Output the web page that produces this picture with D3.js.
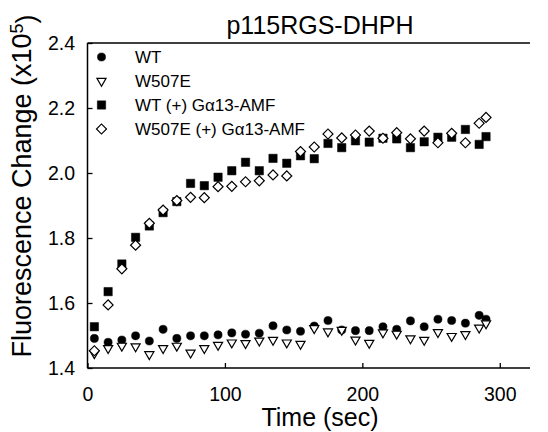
<!DOCTYPE html>
<html><head><meta charset="utf-8">
<script src="https://cdn.jsdelivr.net/npm/d3@7"></script>
<style>html,body{margin:0;padding:0;background:#fff;} svg{display:block;font-family:"Liberation Sans",Arial,sans-serif;}</style>
</head><body>
<div id="chart"></div>
<script>
const times = [5,15,25,35,45,55,65,75,85,95,105,115,125,135,145,155,165,175,185,195,205,215,225,235,245,255,265,275,285,290];
const wt = [1.491,1.479,1.486,1.499,1.483,1.519,1.491,1.499,1.499,1.502,1.508,1.504,1.507,1.530,1.517,1.513,1.529,1.546,1.517,1.515,1.515,1.527,1.519,1.545,1.527,1.550,1.546,1.538,1.562,1.550];
const w507e = [1.445,1.461,1.468,1.466,1.442,1.461,1.468,1.447,1.461,1.471,1.478,1.476,1.484,1.486,1.478,1.474,1.522,1.512,1.517,1.487,1.477,1.509,1.505,1.491,1.486,1.510,1.498,1.504,1.524,1.537];
const wtG = [1.527,1.635,1.720,1.802,1.837,1.878,1.912,1.968,1.961,1.987,2.007,2.033,2.007,2.045,2.030,2.053,2.044,2.091,2.078,2.099,2.095,2.107,2.105,2.078,2.096,2.110,2.110,2.134,2.088,2.112];
const w507eG = [1.453,1.594,1.705,1.778,1.845,1.886,1.915,1.925,1.924,1.958,1.959,1.973,1.976,1.994,1.991,2.066,2.080,2.120,2.108,2.117,2.129,2.107,2.124,2.105,2.129,2.093,2.122,2.093,2.153,2.171];
const seriesNames = ["WT","W507E","WT (+) G\u03B113-AMF","W507E (+) G\u03B113-AMF"];
const xTicks = [0,100,200,300];
const yTicks = [1.4,1.6,1.8,2.0,2.2,2.4];
const titleText = "p115RGS-DHPH";
const xLabel = "Time (sec)";

const W = 548, H = 432;
const svg = d3.select("#chart").append("svg").attr("width", W).attr("height", H);
const x = d3.scaleLinear().domain([0, 322]).range([87.5, 530]);
const y = d3.scaleLinear().domain([1.4, 2.4]).range([368, 43]);

// axes
const xAxis = svg.append("g").attr("transform", `translate(0,${y(1.4)})`)
  .call(d3.axisBottom(x).tickValues(xTicks).tickSizeInner(-5).tickSizeOuter(0).tickPadding(19).tickFormat(d3.format("d")));
const yAxis = svg.append("g").attr("transform", `translate(${x(0)},0)`)
  .call(d3.axisLeft(y).tickValues(yTicks).tickSizeInner(-5).tickSizeOuter(0).tickPadding(12.5).tickFormat(d3.format(".1f")));
[xAxis, yAxis].forEach(g => {
  g.select(".domain").remove();
  g.selectAll(".tick line").attr("stroke", "#000").attr("stroke-width", 1.3);
  g.selectAll(".tick text").attr("fill", "#000").style("font-size", "19.5px").style("font-family", '"Liberation Sans",Arial,sans-serif');
});
// frame lines: left, bottom, top
svg.append("line").attr("x1", x(0)).attr("x2", x(0)).attr("y1", y(2.4)).attr("y2", y(1.4)).attr("stroke", "#000").attr("stroke-width", 1.5);
svg.append("line").attr("x1", x(0)).attr("x2", x(322)).attr("y1", y(1.4)).attr("y2", y(1.4)).attr("stroke", "#000").attr("stroke-width", 1.5);
svg.append("line").attr("x1", x(0)).attr("x2", x(322)).attr("y1", y(2.4)).attr("y2", y(2.4)).attr("stroke", "#000").attr("stroke-width", 1.5);

// title & labels
svg.append("text").attr("x", 320).attr("y", 34).attr("text-anchor", "middle").style("font-size", "25px").text(titleText);
svg.append("text").attr("x", 320).attr("y", 426).attr("text-anchor", "middle").style("font-size", "25px").text(xLabel);
const yl = svg.append("text").attr("transform", "translate(31,186) rotate(-90)").attr("text-anchor", "middle").style("font-size", "27px");
yl.append("tspan").text("Fluorescence Change (x10");
yl.append("tspan").attr("dy", "-0.45em").style("font-size", "18px").text("5");
yl.append("tspan").attr("dy", "0.45em").text(")");

// symbols
const shapes = [
  {data: wt, sym: d3.symbolCircle, size: 52, fill: "#000", rot: 0},
  {data: w507e, sym: d3.symbolTriangle, size: 36, fill: "#fff", rot: 180},
  {data: wtG, sym: d3.symbolSquare, size: 70, fill: "#000", rot: 0},
  {data: w507eG, sym: d3.symbolSquare, size: 50, fill: "#fff", rot: 45}
];
shapes.forEach(s => {
  const path = d3.symbol().type(s.sym).size(s.size)();
  svg.append("g").selectAll("path").data(s.data).join("path")
    .attr("d", path)
    .attr("transform", (d, i) => `translate(${x(times[i])},${y(d)}) rotate(${s.rot})`)
    .attr("fill", s.fill).attr("stroke", "#000").attr("stroke-width", s.fill === "#fff" ? 1.2 : 0.5);
});

// legend
const legY = [57, 81, 105, 129];
shapes.forEach((s, i) => {
  svg.append("path").attr("d", d3.symbol().type(s.sym).size(s.size)())
    .attr("transform", `translate(101.5,${legY[i]}) rotate(${s.rot})`)
    .attr("fill", s.fill).attr("stroke", "#000").attr("stroke-width", s.fill === "#fff" ? 1.2 : 0.5);
  svg.append("text").attr("x", 135).attr("y", legY[i]).attr("dy", "0.36em").style("font-size", "17px").text(seriesNames[i]);
});
</script>
</body></html>
